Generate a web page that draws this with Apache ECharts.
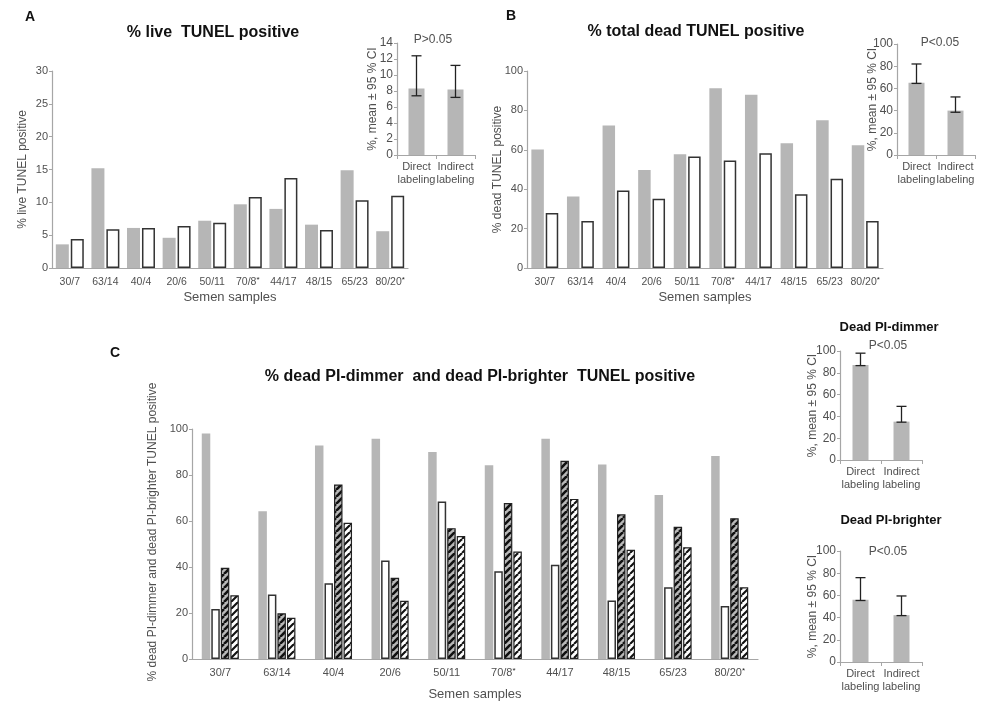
<!DOCTYPE html>
<html><head><meta charset="utf-8">
<script src="https://cdn.jsdelivr.net/npm/echarts@6/dist/echarts.min.js"></script>
<style>html,body{margin:0;padding:0;background:#fff}#c{width:983px;height:707px}</style>
</head><body><div id="c"></div>
<script>
// ---------- data ----------
const samples = ['30/7','63/14','40/4','20/6','50/11','70/8*','44/17','48/15','65/23','80/20*'];
const liveDirect = [3.6,15.2,6.1,4.6,7.2,9.7,9.0,6.6,14.9,5.6];
const liveIndirect = [4.4,5.9,6.1,6.4,6.9,10.8,13.7,5.8,10.3,11.0];
const deadDirect = [60.1,36.3,72.3,49.8,57.8,91.2,88.0,63.3,75.0,62.3];
const deadIndirect = [27.9,23.8,39.4,35.1,56.6,54.6,58.3,37.5,45.3,23.8];
const dimmerDirect = [98.0,64.2,92.8,95.8,90.0,84.2,95.8,84.6,71.3,88.3];
const dimmerIndirect = [21.7,28.0,32.9,42.8,68.5,38.1,41.0,25.4,31.2,23.0];
const brighterDirect = [39.7,19.9,75.9,35.3,56.9,67.8,86.2,62.9,57.5,61.2];
const brighterIndirect = [27.7,17.9,59.2,25.3,53.5,46.7,69.6,47.5,48.6,31.2];
const methods = ['Direct\nlabeling','Indirect\nlabeling'];
const liveMean = [8.3, 8.2], liveLow = [7.4, 7.2], liveHigh = [12.4, 11.2];
const deadMean = [65.0, 40.0], deadLow = [64.5, 38.5], deadHigh = [82.0, 52.3];
const dimMean = [87.2, 35.2], dimLow = [86.6, 34.7], dimHigh = [98.0, 49.2];
const briMean = [56.0, 42.2], briLow = [55.4, 41.8], briHigh = [76.0, 59.5];

// ---------- style ----------
const FONT = '"Liberation Sans", Arial, sans-serif';
const GRAY = '#b6b6b6';
const AXIS = '#a6a6a6';
const TXT = '#505050';

function hatch(bg, lw){
  const s = 7;
  const c = document.createElement('canvas'); c.width = s; c.height = s;
  const g = c.getContext('2d');
  g.fillStyle = bg; g.fillRect(0,0,s,s);
  g.strokeStyle = '#111'; g.lineWidth = lw;
  for (let k = -s; k <= 2*s; k += s){ g.beginPath(); g.moveTo(k, s); g.lineTo(k+s, 0); g.stroke(); }
  return {image: c, repeat: 'repeat'};
}
const darkHatch = hatch('#b8b8b8', 2.6);
const whiteHatch = hatch('#ffffff', 2.1);

const grids = [
  {left:52, top:71, width:356, height:197},   // 0 A main
  {left:397, top:43, width:78, height:112},   // 1 A inset
  {left:527, top:71, width:356, height:197},  // 2 B main
  {left:897, top:44, width:78, height:111},   // 3 B inset
  {left:192, top:429, width:566, height:230}, // 4 C main
  {left:840, top:351, width:82, height:109},  // 5 C inset dimmer
  {left:840, top:551, width:82, height:111}   // 6 C inset brighter
].map(g => Object.assign({containLabel:false, outerBoundsMode:'none'}, g));

function supLabel(fs, margin){
  return {color:TXT, fontFamily:FONT, fontSize:fs, margin:margin, interval:0, lineHeight:12,
    formatter: v => v.indexOf('*') >= 0 ? '{n|' + v.replace('*','') + '}{s|*}' : '{n|' + v + '}',
    rich:{
      n:{fontSize:fs, color:TXT, fontFamily:FONT, lineHeight:12},
      s:{fontSize:8, color:'#222', fontFamily:FONT, lineHeight:7, verticalAlign:'top'}
    }};
}
function catAxis(gi, data, fs, margin, nameGap){
  return {
    type:'category', gridIndex:gi, data:data,
    name:'Semen samples', nameLocation:'middle', nameGap:nameGap, nameMoveOverlap:false,
    nameTextStyle:{color:TXT, fontFamily:FONT, fontSize:13},
    axisLine:{show:true, lineStyle:{color:AXIS, width:1.2}},
    axisTick:{show:false},
    axisLabel: supLabel(fs, margin),
    splitLine:{show:false}
  };
}
function insetCat(gi){
  return {
    type:'category', gridIndex:gi, data:methods,
    axisLine:{show:true, lineStyle:{color:AXIS, width:1.2}},
    axisTick:{show:true, length:4, lineStyle:{color:AXIS}},
    axisLabel:{color:TXT, fontFamily:FONT, fontSize:11, margin:5, lineHeight:13, interval:0},
    splitLine:{show:false}
  };
}
function valAxis(gi, max, interval, name, gap, fs, pad){
  return {
    type:'value', gridIndex:gi, min:0, max:max, interval:interval,
    name:name, nameLocation:'middle', nameGap:gap, nameMoveOverlap:false,
    nameTextStyle:{color:TXT, fontFamily:FONT, fontSize:12, padding: pad || 0},
    axisLine:{show:true, lineStyle:{color:AXIS, width:1.2}},
    axisTick:{show:true, length:3, lineStyle:{color:AXIS}},
    axisLabel:{color:TXT, fontFamily:FONT, fontSize:fs, margin:4},
    splitLine:{show:false}
  };
}

const xAxes = [
  catAxis(0, samples, 10.5, 8, 23),
  insetCat(1),
  catAxis(2, samples, 10.5, 8, 23),
  insetCat(3),
  catAxis(4, samples, 11, 8, 29),
  insetCat(5),
  insetCat(6)
];
const yAxes = [
  valAxis(0, 30, 5, '% live TUNEL positive', 23, 11),
  valAxis(1, 14, 2, '%, mean \u00b1 95 % CI', 18, 12),
  valAxis(2, 100, 20, '% dead TUNEL positive', 23, 11),
  valAxis(3, 100, 20, '%, mean \u00b1 95 % CI', 18, 12),
  valAxis(4, 100, 20, '% dead PI-dimmer and dead PI-brighter TUNEL positive', 33, 11, [0,0,0,24]),
  valAxis(5, 100, 20, '%, mean \u00b1 95 % CI', 21, 12),
  valAxis(6, 100, 20, '%, mean \u00b1 95 % CI', 21, 12)
];

function bar(gi, data, style, w, gap){
  return {type:'bar', xAxisIndex:gi, yAxisIndex:gi, data:data, barWidth:w, barGap:gap,
    itemStyle:style, silent:true, animation:false};
}
const grayS = {color:GRAY};
const whiteS = {color:'#ffffff', borderColor:'#333', borderWidth:1.5};
const dhS = {color:darkHatch, borderColor:'#222', borderWidth:1.2};
const whS = {color:whiteHatch, borderColor:'#222', borderWidth:1.2};

function errSeries(gi, low, high){
  return {
    type:'custom', xAxisIndex:gi, yAxisIndex:gi, silent:true, z:10, animation:false,
    data: low.map((l,i) => [i, l, high[i]]),
    encode:{x:0, y:[1,2]},
    renderItem(params, api){
      const lo = api.coord([api.value(0), api.value(1)]);
      const hi = api.coord([api.value(0), api.value(2)]);
      const w = 5;
      const st = {stroke:'#222', lineWidth:1.3};
      return {type:'group', children:[
        {type:'line', shape:{x1:lo[0], y1:lo[1], x2:hi[0], y2:hi[1]}, style:st},
        {type:'line', shape:{x1:hi[0]-w, y1:hi[1], x2:hi[0]+w, y2:hi[1]}, style:st},
        {type:'line', shape:{x1:lo[0]-w, y1:lo[1], x2:lo[0]+w, y2:lo[1]}, style:st}
      ]};
    }
  };
}

const series = [
  bar(0, liveDirect, grayS, 13, '15%'),
  bar(0, liveIndirect, whiteS, 13, '15%'),
  bar(1, liveMean, grayS, 16, '30%'),
  errSeries(1, liveLow, liveHigh),
  bar(2, deadDirect, grayS, 12.5, '15%'),
  bar(2, deadIndirect, whiteS, 12.5, '15%'),
  bar(3, deadMean, grayS, 16, '30%'),
  errSeries(3, deadLow, deadHigh),
  bar(4, dimmerDirect, grayS, 8.5, '12%'),
  bar(4, dimmerIndirect, whiteS, 8.5, '12%'),
  bar(4, brighterDirect, dhS, 8.5, '12%'),
  bar(4, brighterIndirect, whS, 8.5, '12%'),
  bar(5, dimMean, grayS, 16, '30%'),
  errSeries(5, dimLow, dimHigh),
  bar(6, briMean, grayS, 16, '30%'),
  errSeries(6, briLow, briHigh)
];

function txt(x, y, text, font, fill){
  return {type:'text', x:x, y:y, silent:true,
    style:{text:text, font:font, fill:fill || '#111', textAlign:'center', textVerticalAlign:'middle',
      align:'center', verticalAlign:'middle'}};
}
const graphics = [
  txt(30, 17, 'A', 'bold 14px ' + FONT),
  txt(511, 16, 'B', 'bold 14px ' + FONT),
  txt(115, 353, 'C', 'bold 14px ' + FONT),
  txt(213, 33, '% live  TUNEL positive', 'bold 16px ' + FONT),
  txt(696, 32, '% total dead TUNEL positive', 'bold 16px ' + FONT),
  txt(480, 377, '% dead PI-dimmer  and dead PI-brighter  TUNEL positive', 'bold 16px ' + FONT),
  txt(889, 327, 'Dead PI-dimmer', 'bold 13px ' + FONT),
  txt(891, 520, 'Dead PI-brighter', 'bold 13px ' + FONT),
  txt(433, 40, 'P>0.05', '12px ' + FONT, TXT),
  txt(940, 43, 'P<0.05', '12px ' + FONT, TXT),
  txt(888, 346, 'P<0.05', '12px ' + FONT, TXT),
  txt(888, 552, 'P<0.05', '12px ' + FONT, TXT)
];

const chart = echarts.init(document.getElementById('c'), null, {renderer:'canvas'});
chart.setOption({
  animation:false,
  backgroundColor:'#ffffff',
  grid: grids, xAxis: xAxes, yAxis: yAxes, series: series,
  graphic: {elements: graphics}
});
</script></body></html>
